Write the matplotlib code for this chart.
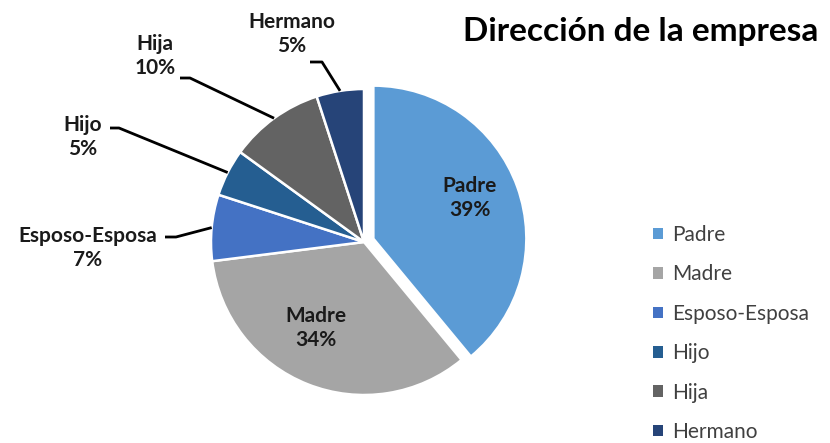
import matplotlib.pyplot as plt
import numpy as np

# Daten
labels = ['Padre', 'Madre', 'Esposo-Esposa', 'Hijo', 'Hija', 'Hermano']
values = [39, 34, 7, 5, 10, 5]
colors = ['#5B9BD5', '#A5A5A5', '#4472C4', '#255E91', '#636363', '#264478']
title = 'Dirección de la empresa'

plt.rcParams['font.family'] = ['Lato', 'DejaVu Sans']

W, H = 830, 443
cx, cy, R = 364, 242, 153  # Pixel

def px(x, y):
    # Pixel -> Datenkoordinaten (Radius 1)
    return (x - cx) / R, (cy - y) / R

fig = plt.figure(figsize=(W / 100, H / 100), dpi=100)
ax = fig.add_axes([0, 0, 1, 1])

explode = [0.065, 0, 0, 0, 0, 0]
wedges, _ = ax.pie(values, colors=colors, startangle=90, counterclock=False,
                   explode=explode, radius=1, center=(0, 0),
                   wedgeprops=dict(edgecolor='white', linewidth=1.8))
ax.set_xlim(-cx / R, (W - cx) / R)
ax.set_ylim(-(H - cy) / R, cy / R)
ax.set_aspect('equal')
ax.axis('off')

lab_kw = dict(ha='center', va='center', fontsize=15, fontweight='bold',
              color='#1a1a1a', linespacing=1.3)

# Beschriftungen innen
inside = {0: (470, 198), 1: (316, 328)}
for i, (x, y) in inside.items():
    tx, ty = px(x, y)
    ax.text(tx, ty, f'{labels[i]}\n{values[i]}%', **lab_kw)

# Beschriftungen aussen mit Fuehrungslinien
outside = {
    5: ((292, 34), (310, 62), (322, 62)),
    4: ((155, 56), (180, 78), (190, 78)),
    3: ((83, 137), (110, 128), (119, 128)),
    2: ((88, 248), (165, 237), (176, 237)),
}
for i, (tpos, start, elbow) in outside.items():
    w = wedges[i]
    mid = np.deg2rad((w.theta1 + w.theta2) / 2)
    ex, ey = np.cos(mid), np.sin(mid)
    sx, sy = px(*start)
    bx, by = px(*elbow)
    ax.plot([sx, bx, ex], [sy, by, ey], color='black', lw=2.0,
            solid_capstyle='butt', zorder=5)
    tx, ty = px(*tpos)
    ax.text(tx, ty, f'{labels[i]}\n{values[i]}%', **lab_kw)

fig.text(641 / W, 1 - 31 / H, title, ha='center', va='center',
         fontsize=24, fontweight='bold', color='black')

leg = fig.legend(wedges, labels, loc='center left',
                 bbox_to_anchor=(653 / W, 1 - 333.5 / H), frameon=False,
                 fontsize=15, labelspacing=0.93, handlelength=0.47,
                 handleheight=0.47, handletextpad=0.45, borderpad=0,
                 borderaxespad=0)
for t in leg.get_texts():
    t.set_color('#404040')
for hnd in leg.legend_handles:
    hnd.set_edgecolor('none')

fig.savefig('out.png', dpi=100)
